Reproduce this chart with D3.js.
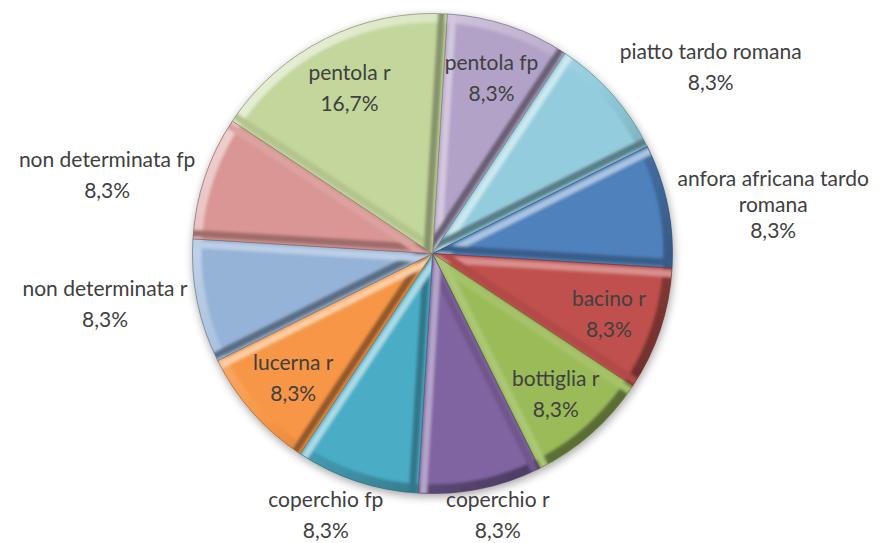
<!DOCTYPE html>
<html>
<head>
<meta charset="utf-8">
<title>Torta</title>
<script src="https://cdn.jsdelivr.net/npm/d3@7"></script>
<style>
  body { margin: 0; background: #fff; }
  .lbl { font-family: Lato, "Open Sans", sans-serif; font-size: 21px; fill: #404040; }
</style>
</head>
<body>
<div id="chart"></div>
<script>
// categorie in ordine orario, partendo dall'alto
var categories = ["pentola fp", "piatto tardo romana", "anfora africana tardo romana", "bacino r",
  "bottiglia r", "coperchio r", "coperchio fp", "lucerna r", "non determinata r",
  "non determinata fp", "pentola r"];
var nameLines = [["pentola fp"], ["piatto tardo romana"], ["anfora africana tardo", "romana"], ["bacino r"],
  ["bottiglia r"], ["coperchio r"], ["coperchio fp"], ["lucerna r"], ["non determinata r"],
  ["non determinata fp"], ["pentola r"]];
var counts = [1, 1, 1, 1, 1, 1, 1, 1, 1, 1, 2];
var colors = ["#b3a2c7", "#93cddd", "#4f81bd", "#c0504d", "#9bbb59", "#8064a2",
  "#4bacc6", "#f79646", "#95b3d7", "#d99694", "#c3d69b"];
var inside = [true, false, false, true, true, false, false, true, false, false, true];

var width = 885, height = 543;
var cx = 432.5, cy = 253.5, radius = 240, bw = 9;
var rot = 3.5 * Math.PI / 180;

var it = d3.formatLocale({decimal: ",", thousands: ".", grouping: [3], currency: ["", "€"]});
var pct = it.format(".1%");
var total = d3.sum(counts);

var svg = d3.select("#chart").append("svg")
  .attr("width", width).attr("height", height);
var defs = svg.append("defs");
defs.append("filter").attr("id", "shadow").attr("x", "-20%").attr("y", "-20%").attr("width", "140%").attr("height", "140%")
  .append("feGaussianBlur").attr("stdDeviation", 5);
defs.append("filter").attr("id", "soft")
  .append("feGaussianBlur").attr("stdDeviation", 1.6);

var pie = d3.pie().sort(null).value(function(d) { return d; })
  .startAngle(rot).endAngle(rot + 2 * Math.PI);
var arcs = pie(counts);
var arc = d3.arc().innerRadius(0).outerRadius(radius);

var g = svg.append("g").attr("transform", "translate(" + cx + "," + cy + ")");

g.append("circle").attr("r", radius).attr("cx", 1).attr("cy", 3)
  .attr("fill", "#000").attr("opacity", 0.38).attr("filter", "url(#shadow)");

var L = [-Math.SQRT1_2, -Math.SQRT1_2];
function shade(c, s) {
  if (s > 0) return d3.interpolateRgb(c, "#fff")(s * 0.55);
  return d3.interpolateRgb(c, "#000")(-s * 0.42);
}

arcs.forEach(function(d, i) {
  var col = colors[i];
  defs.append("clipPath").attr("id", "clip" + i).append("path").attr("d", arc(d));
  var sg = g.append("g");
  sg.append("path").attr("d", arc(d)).attr("fill", col);
  var bev = sg.append("g").attr("clip-path", "url(#clip" + i + ")")
    .append("g").attr("filter", "url(#soft)");
  // bordo esterno
  var step = Math.PI / 90;
  for (var t = d.startAngle; t < d.endAngle; t += step) {
    var t1 = Math.min(t + step, d.endAngle);
    var m = (t + t1) / 2;
    var s = Math.sin(m) * L[0] - Math.cos(m) * L[1];
    bev.append("path")
      .attr("d", d3.arc()({innerRadius: radius - bw, outerRadius: radius + 4, startAngle: t - 0.004, endAngle: t1 + 0.004}))
      .attr("fill", shade(col, s));
  }
  // bordi radiali
  [[d.startAngle, 1], [d.endAngle, -1]].forEach(function(e) {
    var a = e[0], k = e[1];
    var nx = -k * Math.cos(a), ny = -k * Math.sin(a);
    var s = nx * L[0] + ny * L[1];
    var ox = Math.sin(a), oy = -Math.cos(a);
    var R = radius + 6;
    var pts = [[-nx * 2, -ny * 2], [ox * R - nx * 2, oy * R - ny * 2],
      [ox * R - nx * bw, oy * R - ny * bw], [-nx * bw, -ny * bw]];
    bev.append("path").attr("d", d3.line()(pts) + "Z").attr("fill", shade(col, s));
  });
  sg.append("path").attr("d", arc(d)).attr("fill", "none")
    .attr("stroke", d3.color(col).darker(1.2)).attr("stroke-width", 0.8).attr("stroke-opacity", 0.8);
});

// etichette
var labelArc = d3.arc().innerRadius(radius * 0.775).outerRadius(radius * 0.775);
arcs.forEach(function(d, i) {
  var lines = nameLines[i].concat([pct(counts[i] / total)]);
  var gap = lines.length > 2 ? 26 : 31;
  var t = svg.append("text").attr("class", "lbl").attr("text-anchor", "middle");
  lines.forEach(function(s) { t.append("tspan").text(s); });
  var w = d3.max(t.selectAll("tspan").nodes(), function(n) { return n.getComputedTextLength(); });
  var h = (lines.length - 1) * gap + 24;
  var px, py;
  if (inside[i]) {
    var c = labelArc.centroid(d);
    px = cx + c[0]; py = cy + c[1];
  } else {
    var m = (d.startAngle + d.endAngle) / 2;
    var sx = Math.max(-1, Math.min(1, Math.sin(m) * 1.5));
    var cc = Math.cos(m);
    var sy = Math.sign(cc) * Math.max(0, Math.min(1, (Math.abs(cc) - 0.35) * 2.5));
    px = cx + Math.sin(m) * (radius + 10) + w / 2 * sx;
    py = cy - Math.cos(m) * (radius + 10) - h / 2 * sy;
    px = Math.max(w / 2 + 2, Math.min(width - w / 2 - 2, px));
    py = Math.max(h / 2 + 2, Math.min(height - h / 2 - 2, py));
  }
  t.selectAll("tspan")
    .attr("x", px)
    .attr("y", function(s, j) { return py + (j - (lines.length - 1) / 2) * gap; })
    .attr("dominant-baseline", "central");
});
</script>
</body>
</html>
